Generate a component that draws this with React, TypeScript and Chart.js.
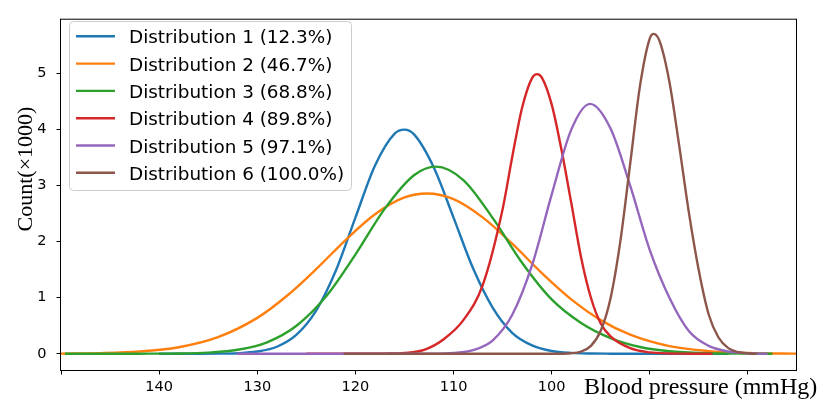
import { useEffect, useRef } from "react"
import { Chart, registerables } from "chart.js"

Chart.register(...registerables)

const seriesLabels = [
  "Distribution 1 (12.3%)",
  "Distribution 2 (46.7%)",
  "Distribution 3 (68.8%)",
  "Distribution 4 (89.8%)",
  "Distribution 5 (97.1%)",
  "Distribution 6 (100.0%)",
]

const seriesColors = ["#1f77b4", "#ff7f0e", "#2ca02c", "#d62728", "#9467bd", "#8c564b"]

// blood pressure (mmHg) / count (x1000)
const bp1 = [140, 136, 134, 132, 130, 128, 126, 124, 122, 120, 118, 116, 115, 114, 112, 110, 108, 106, 104, 102, 100, 98, 96, 94, 92, 88, 82]
const count1 = [0, 0, 0.002, 0.01, 0.04, 0.125, 0.34, 0.77, 1.48, 2.43, 3.36, 3.93, 4.0, 3.91, 3.32, 2.43, 1.52, 0.82, 0.37, 0.15, 0.05, 0.015, 0.004, 0.001, 0, 0, 0]

const bp2 = [150, 146, 142, 138, 134, 130, 127, 124, 121, 118, 115, 112.7, 110, 107, 104, 101, 98, 95, 92, 88, 84, 80, 75]
const count2 = [0.003, 0.011, 0.039, 0.117, 0.296, 0.64, 1.03, 1.51, 2.03, 2.49, 2.79, 2.86, 2.76, 2.43, 1.96, 1.44, 0.97, 0.6, 0.34, 0.136, 0.047, 0.014, 0.002]

const bp3 = [149.6, 146, 142, 138, 135, 132, 129, 126, 123, 120, 117, 114, 111.8, 109, 106, 103, 100, 97, 94, 91, 88, 84, 80, 77.5]
const count3 = [0, 0, 0.001, 0.005, 0.021, 0.071, 0.205, 0.5, 1.02, 1.77, 2.59, 3.19, 3.34, 3.1, 2.42, 1.62, 0.97, 0.55, 0.28, 0.12, 0.045, 0.01, 0.002, 0]

const bp4 = [125, 120, 117, 115, 113, 111, 109, 107, 105, 104, 103, 102, 101.5, 101, 100, 99, 98, 97, 96, 95, 94, 92, 90, 88, 86, 83.6]
const count4 = [0, 0, 0.003, 0.015, 0.07, 0.26, 0.6, 1.24, 2.58, 3.53, 4.4, 4.92, 4.99, 4.93, 4.45, 3.64, 2.69, 1.72, 1.0, 0.54, 0.31, 0.1, 0.025, 0.005, 0.001, 0]

const bp5 = [132.1, 125, 118, 114, 112, 110, 108, 106, 104, 102, 100, 98, 96.1, 94, 92, 90, 88, 86, 84, 82, 80, 78]
const count5 = [0, 0, 0, 0, 0.002, 0.014, 0.066, 0.24, 0.7, 1.58, 2.84, 4.0, 4.46, 4.02, 3.0, 1.85, 1.0, 0.4, 0.14, 0.04, 0.01, 0]

const bp6 = [121.2, 110, 100, 98, 97, 96, 95, 94, 93, 92, 91, 90, 89.6, 89, 88, 87, 86, 85, 84, 83, 82, 81, 80, 79.1]
const count6 = [0, 0, 0, 0.01, 0.04, 0.14, 0.41, 0.99, 2.01, 3.39, 4.78, 5.63, 5.71, 5.58, 4.85, 3.71, 2.5, 1.48, 0.7, 0.29, 0.1, 0.03, 0.008, 0]

const xTicks = [150, 140, 130, 120, 110, 100, 90, 80]
const xTickLabels = ["", "140", "130", "120", "110", "100", "", ""]
const yTicks = [0, 1, 2, 3, 4, 5]

const xValues = [bp1, bp2, bp3, bp4, bp5, bp6]
const yValues = [count1, count2, count3, count4, count5, count6]

const tickFont = { family: "DejaVu Sans", size: 14.5 }

const overlay = {
  id: "overlay",
  afterDraw(chart: Chart) {
    const { ctx, chartArea } = chart
    ctx.save()

    // axes frame on all four sides
    ctx.strokeStyle = "#000"
    ctx.lineWidth = 1
    ctx.strokeRect(chartArea.left - 0.5, chartArea.top + 0.5, chartArea.right - chartArea.left, chartArea.bottom - chartArea.top)

    // legend box
    ctx.beginPath()
    ctx.roundRect(69.5, 21.5, 282, 169, 4)
    ctx.fillStyle = "rgba(255,255,255,0.8)"
    ctx.fill()
    ctx.strokeStyle = "#cccccc"
    ctx.stroke()

    ctx.font = '18.4px "DejaVu Sans"'
    ctx.textBaseline = "alphabetic"
    ctx.textAlign = "left"
    chart.data.datasets.forEach((ds, i) => {
      const y = 36.3 + i * 27.3
      ctx.strokeStyle = ds.borderColor as string
      ctx.lineWidth = 2.4
      ctx.beginPath()
      ctx.moveTo(76, y)
      ctx.lineTo(115, y)
      ctx.stroke()
      ctx.fillStyle = "#000"
      ctx.fillText(ds.label as string, 129, y + 7)
    })

    // axis titles
    ctx.fillStyle = "#000"
    ctx.font = '24px "Liberation Serif"'
    ctx.fillText("Blood pressure (mmHg)", 584, 394)

    ctx.font = '22px "Liberation Serif"'
    ctx.translate(32, 169)
    ctx.rotate(-Math.PI / 2)
    ctx.textAlign = "center"
    ctx.fillText("Count(×1000)", 0, 0)

    ctx.restore()
  },
}

export default function App() {
  const chartRef = useRef<HTMLCanvasElement | null>(null)
  const chartInstance = useRef<Chart | null>(null)

  useEffect(() => {
    if (!chartRef.current) return
    document.body.style.margin = "0"

    if (chartInstance.current) {
      chartInstance.current.destroy()
    }

    const datasets = seriesLabels.map((label, i) => ({
      label,
      data: xValues[i].map((x, j) => ({ x, y: yValues[i][j] })),
      borderColor: seriesColors[i],
      backgroundColor: seriesColors[i],
      borderWidth: 2.4,
      pointRadius: 0,
      fill: false,
      cubicInterpolationMode: "monotone" as const,
      // later series on top, like matplotlib
      order: seriesLabels.length - i,
    }))

    chartInstance.current = new Chart(chartRef.current, {
      type: "line",
      data: { datasets },
      options: {
        responsive: false,
        animation: false,
        layout: { padding: { top: 12, right: 35, left: 0, bottom: 0 } },
        plugins: {
          legend: { display: false },
          tooltip: { enabled: false },
        },
        scales: {
          x: {
            type: "linear",
            reverse: true,
            min: 75,
            max: 150,
            afterBuildTicks: (scale) => {
              scale.ticks = xTicks.map((value) => ({ value }))
            },
            afterFit: (scale) => {
              scale.height = 35
            },
            border: { display: false },
            grid: { drawOnChartArea: false, tickLength: 4.5, color: "#000" },
            ticks: {
              autoSkip: false,
              maxRotation: 0,
              padding: 4,
              color: "#000",
              font: tickFont,
              callback: (value) => xTickLabels[xTicks.indexOf(Number(value))] ?? "",
            },
          },
          y: {
            type: "linear",
            min: -0.29,
            max: 5.98,
            afterBuildTicks: (scale) => {
              scale.ticks = yTicks.map((value) => ({ value }))
            },
            afterFit: (scale) => {
              scale.width = 61
            },
            border: { display: false },
            grid: { drawOnChartArea: false, tickLength: 4.5, color: "#000" },
            ticks: {
              padding: 10,
              color: "#000",
              font: tickFont,
              callback: (value) => String(value),
            },
          },
        },
      },
      plugins: [overlay],
    })

    return () => {
      if (chartInstance.current) {
        chartInstance.current.destroy()
        chartInstance.current = null
      }
    }
  }, [])

  return (
    <div style={{ width: 832, height: 405 }}>
      <canvas ref={chartRef} width={832} height={405} style={{ width: 832, height: 405 }} />
    </div>
  )
}
